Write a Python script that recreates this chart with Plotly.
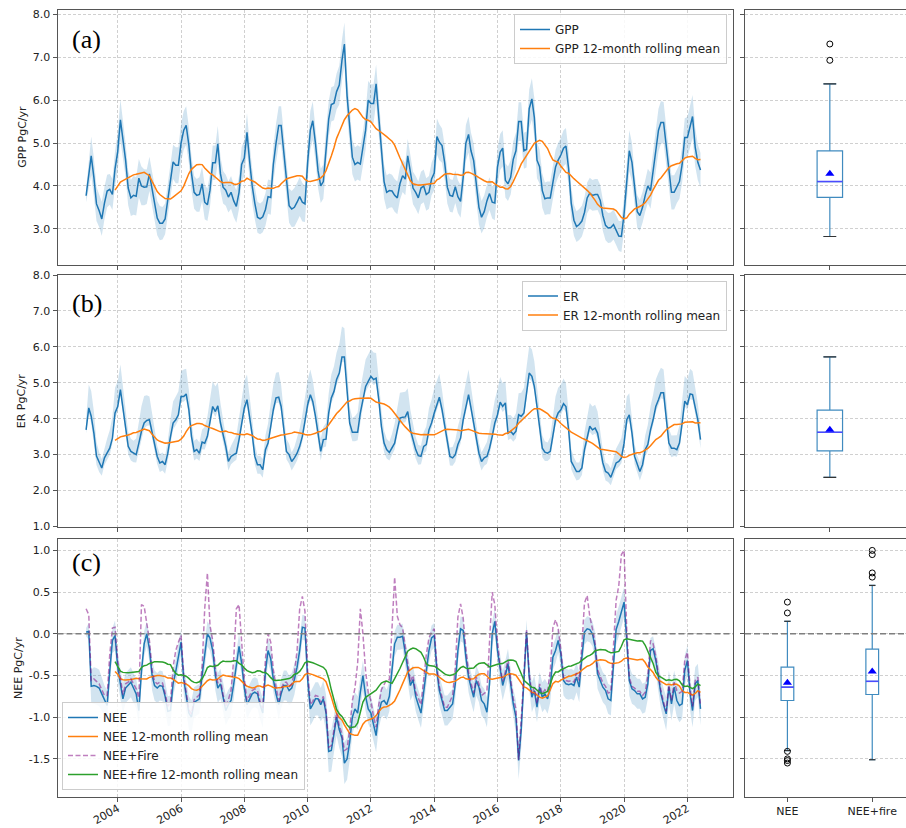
import numpy as np
import pandas as pd
import plotly.graph_objects as go

# ---------------- monthly data, Jan 2003 - Jun 2022 (PgC/yr) ----------------
months = pd.date_range("2003-01-01", periods=234, freq="MS")

gpp = [
    3.77, 4.30, 4.70, 4.20, 3.58, 3.42, 3.23, 3.60, 3.88, 3.92, 3.80, 4.40,
    4.80, 5.54, 5.10, 4.60, 3.95, 3.72, 3.78, 3.76, 4.18, 4.00, 3.97, 3.98,
    4.28, 3.95, 3.60, 3.25, 3.13, 3.13, 3.23, 3.70, 4.10, 4.56, 4.48, 4.48,
    5.00, 5.30, 5.41, 4.95, 4.30, 3.85, 3.78, 3.80, 4.05, 3.62, 3.56, 3.90,
    4.54, 4.54, 4.98, 4.28, 3.97, 3.90, 3.74, 3.85, 3.65, 3.52, 3.85, 4.50,
    4.65, 5.25, 4.60, 4.00, 3.60, 3.27, 3.23, 3.28, 3.45, 3.75, 3.73, 4.50,
    5.00, 5.41, 5.41, 4.80, 4.10, 3.54, 3.46, 3.50, 3.62, 3.75, 3.62, 3.58,
    4.55, 5.30, 5.52, 5.00, 4.35, 4.00, 4.10, 4.90, 5.56, 5.90, 5.93, 6.20,
    6.35, 6.93, 7.31, 6.10, 5.30, 4.67, 4.50, 4.55, 4.51, 4.85, 5.30, 6.00,
    5.92, 5.92, 6.38, 5.60, 4.80, 4.10, 3.85, 3.89, 3.88, 3.78, 3.72, 4.05,
    4.24, 4.16, 4.70, 4.28, 3.95, 3.85, 3.72, 3.95, 4.00, 3.80, 3.85, 4.16,
    4.30, 5.15, 5.02, 4.94, 4.55, 3.97, 3.78, 3.76, 3.98, 3.75, 3.64, 4.20,
    5.00, 5.20, 4.82, 4.59, 4.10, 3.50, 3.27, 3.40, 3.65, 3.82, 3.62, 3.60,
    4.44, 4.79, 4.88, 4.13, 4.05, 4.20, 4.62, 4.82, 5.50, 5.50, 4.82, 4.85,
    5.80, 6.03, 5.60, 4.60, 4.45, 3.89, 3.70, 3.72, 3.72, 4.12, 4.44, 4.60,
    4.72, 4.88, 4.93, 4.40, 3.60, 3.20, 3.05, 3.10, 3.18, 3.38, 3.72, 3.83,
    3.78, 3.80, 3.80, 3.66, 3.31, 3.08, 3.02, 3.03, 3.10, 2.97, 2.83, 2.82,
    3.35, 4.10, 4.82, 4.55, 3.90, 3.40, 3.31, 3.50, 3.78, 4.00, 3.89, 4.30,
    4.82, 5.30, 5.48, 5.48, 4.95, 4.30, 3.85, 3.85, 4.00, 4.10, 4.50, 5.13,
    5.13, 5.40, 5.62, 4.90, 4.55, 4.37,
]

gpp_err = [
    0.15, 0.30, 0.45, 0.45, 0.40, 0.38, 0.40, 0.38, 0.38, 0.36, 0.36, 0.40,
    0.45, 0.48, 0.45, 0.40, 0.40, 0.42, 0.45, 0.45, 0.45, 0.45, 0.42, 0.40,
    0.40, 0.40, 0.40, 0.40, 0.40, 0.38, 0.36, 0.36, 0.38, 0.40, 0.42, 0.42,
    0.45, 0.45, 0.45, 0.42, 0.40, 0.38, 0.38, 0.40, 0.40, 0.40, 0.38, 0.38,
    0.40, 0.40, 0.42, 0.40, 0.38, 0.36, 0.36, 0.38, 0.38, 0.38, 0.38, 0.40,
    0.42, 0.45, 0.42, 0.40, 0.38, 0.36, 0.36, 0.36, 0.38, 0.40, 0.40, 0.42,
    0.45, 0.45, 0.45, 0.42, 0.40, 0.40, 0.42, 0.45, 0.45, 0.45, 0.45, 0.42,
    0.42, 0.45, 0.45, 0.42, 0.40, 0.40, 0.40, 0.42, 0.42, 0.40, 0.40, 0.42,
    0.45, 0.48, 0.50, 0.45, 0.42, 0.40, 0.40, 0.40, 0.40, 0.42, 0.45, 0.45,
    0.45, 0.45, 0.45, 0.42, 0.40, 0.40, 0.40, 0.40, 0.38, 0.38, 0.38, 0.38,
    0.38, 0.38, 0.40, 0.38, 0.38, 0.38, 0.38, 0.38, 0.38, 0.38, 0.38, 0.38,
    0.40, 0.42, 0.42, 0.40, 0.40, 0.38, 0.38, 0.38, 0.38, 0.38, 0.38, 0.40,
    0.42, 0.42, 0.42, 0.40, 0.40, 0.40, 0.38, 0.38, 0.38, 0.38, 0.38, 0.40,
    0.42, 0.42, 0.42, 0.40, 0.40, 0.40, 0.42, 0.42, 0.45, 0.45, 0.42, 0.42,
    0.45, 0.48, 0.45, 0.42, 0.40, 0.40, 0.38, 0.38, 0.38, 0.40, 0.40, 0.40,
    0.40, 0.42, 0.42, 0.40, 0.38, 0.36, 0.36, 0.36, 0.36, 0.36, 0.36, 0.36,
    0.36, 0.36, 0.36, 0.36, 0.36, 0.35, 0.35, 0.35, 0.35, 0.35, 0.35, 0.36,
    0.40, 0.45, 0.48, 0.45, 0.40, 0.38, 0.36, 0.36, 0.38, 0.40, 0.42, 0.45,
    0.48, 0.50, 0.50, 0.48, 0.45, 0.42, 0.40, 0.40, 0.40, 0.40, 0.42, 0.45,
    0.48, 0.50, 0.50, 0.45, 0.42, 0.40,
]

er = [
    3.69, 4.30, 4.07, 3.60, 2.96, 2.77, 2.63, 2.91, 3.05, 3.18, 3.46, 4.16,
    4.34, 4.81, 4.30, 3.74, 3.23, 3.09, 3.04, 3.00, 3.32, 3.65, 3.88, 3.95,
    3.97, 3.60, 3.23, 2.95, 2.77, 2.81, 2.72, 3.04, 3.50, 3.88, 3.97, 4.11,
    4.62, 4.62, 4.69, 4.25, 3.51, 3.09, 3.14, 3.04, 3.35, 3.32, 3.51, 3.88,
    4.34, 4.20, 4.36, 3.88, 3.60, 3.23, 2.81, 2.95, 3.00, 3.04, 3.42, 3.88,
    4.30, 4.53, 4.07, 3.56, 2.95, 2.72, 2.72, 2.58, 3.14, 3.32, 3.79, 4.25,
    4.58, 4.60, 4.34, 3.69, 3.09, 3.00, 2.81, 2.91, 3.04, 3.23, 3.51, 3.93,
    4.39, 4.67, 4.48, 4.07, 3.60, 3.09, 3.42, 3.43, 4.16, 4.58, 4.76, 5.09,
    5.27, 5.72, 5.72, 4.81, 3.88, 3.62, 3.62, 3.62, 4.16, 4.53, 4.90, 5.04,
    5.18, 5.09, 5.13, 4.53, 3.79, 3.32, 3.14, 3.06, 3.18, 3.32, 3.69, 4.02,
    4.04, 4.05, 4.20, 3.69, 3.42, 3.14, 2.97, 2.95, 3.23, 3.28, 3.69, 3.88,
    4.16, 4.39, 4.60, 4.25, 3.79, 3.32, 2.95, 2.91, 3.00, 3.28, 3.46, 3.97,
    4.30, 4.67, 4.30, 3.88, 3.42, 3.04, 2.81, 2.91, 2.95, 3.18, 3.51, 3.88,
    4.11, 4.46, 4.34, 4.44, 3.60, 3.65, 3.56, 3.65, 4.11, 4.07, 4.16, 4.72,
    5.27, 5.18, 4.90, 4.34, 3.69, 3.18, 3.07, 3.04, 3.09, 3.51, 3.97, 4.16,
    4.25, 4.42, 4.34, 3.69, 2.81, 2.67, 2.53, 2.53, 2.63, 3.14, 3.51, 3.79,
    3.69, 3.74, 3.60, 3.14, 2.77, 2.53, 2.49, 2.37, 2.58, 2.77, 2.81, 2.91,
    3.32, 3.97, 4.11, 3.60, 2.95, 2.72, 2.53, 2.72, 3.14, 3.28, 3.69, 3.97,
    4.34, 4.53, 4.72, 4.72, 3.97, 3.32, 3.18, 3.18, 3.14, 3.32, 3.88, 4.49,
    4.39, 4.69, 4.67, 4.34, 3.97, 3.42,
]

er_up = [
    0.30, 0.65, 0.70, 0.60, 0.40, 0.30, 0.25, 0.30, 0.40, 0.50, 0.60, 0.70,
    0.70, 0.70, 0.60, 0.50, 0.40, 0.35, 0.35, 0.45, 0.60, 0.70, 0.75, 0.70,
    0.65, 0.55, 0.40, 0.30, 0.25, 0.25, 0.25, 0.35, 0.50, 0.60, 0.65, 0.65,
    0.70, 0.75, 0.70, 0.55, 0.40, 0.30, 0.30, 0.30, 0.35, 0.45, 0.55, 0.65,
    0.70, 0.70, 0.65, 0.55, 0.40, 0.30, 0.25, 0.30, 0.40, 0.50, 0.60, 0.70,
    0.75, 0.70, 0.60, 0.45, 0.35, 0.25, 0.25, 0.30, 0.40, 0.55, 0.65, 0.70,
    0.70, 0.70, 0.60, 0.45, 0.35, 0.30, 0.25, 0.30, 0.40, 0.50, 0.60, 0.70,
    0.70, 0.70, 0.60, 0.50, 0.40, 0.35, 0.35, 0.45, 0.55, 0.65, 0.70, 0.75,
    0.80, 0.85, 0.80, 0.60, 0.45, 0.40, 0.45, 0.55, 0.65, 0.70, 0.75, 0.75,
    0.75, 0.75, 0.70, 0.55, 0.45, 0.35, 0.30, 0.30, 0.40, 0.55, 0.65, 0.70,
    0.70, 0.70, 0.65, 0.55, 0.45, 0.35, 0.30, 0.30, 0.40, 0.50, 0.60, 0.65,
    0.70, 0.70, 0.65, 0.55, 0.40, 0.30, 0.25, 0.30, 0.40, 0.50, 0.60, 0.65,
    0.70, 0.70, 0.60, 0.50, 0.40, 0.30, 0.25, 0.30, 0.40, 0.50, 0.60, 0.65,
    0.70, 0.70, 0.65, 0.60, 0.50, 0.45, 0.45, 0.50, 0.60, 0.65, 0.70, 0.75,
    0.75, 0.75, 0.70, 0.55, 0.45, 0.35, 0.30, 0.30, 0.40, 0.55, 0.65, 0.70,
    0.70, 0.70, 0.65, 0.50, 0.35, 0.25, 0.25, 0.25, 0.35, 0.50, 0.60, 0.65,
    0.65, 0.65, 0.60, 0.45, 0.35, 0.25, 0.25, 0.25, 0.30, 0.40, 0.50, 0.55,
    0.60, 0.65, 0.60, 0.45, 0.35, 0.25, 0.25, 0.30, 0.40, 0.55, 0.65, 0.70,
    0.75, 0.75, 0.70, 0.65, 0.50, 0.40, 0.35, 0.35, 0.40, 0.50, 0.65, 0.70,
    0.70, 0.70, 0.65, 0.55, 0.45, 0.35,
]

er_dn = [
    0.10, 0.15, 0.20, 0.25, 0.25, 0.25, 0.22, 0.20, 0.18, 0.18, 0.15, 0.15,
    0.15, 0.15, 0.15, 0.18, 0.22, 0.25, 0.25, 0.22, 0.20, 0.18, 0.15, 0.15,
    0.15, 0.15, 0.18, 0.22, 0.25, 0.25, 0.25, 0.22, 0.20, 0.18, 0.15, 0.15,
    0.15, 0.15, 0.15, 0.18, 0.22, 0.25, 0.25, 0.22, 0.20, 0.18, 0.15, 0.15,
    0.15, 0.15, 0.15, 0.18, 0.22, 0.25, 0.25, 0.22, 0.20, 0.18, 0.15, 0.15,
    0.15, 0.15, 0.15, 0.18, 0.22, 0.25, 0.25, 0.22, 0.20, 0.18, 0.15, 0.15,
    0.15, 0.15, 0.15, 0.18, 0.22, 0.25, 0.25, 0.22, 0.20, 0.18, 0.15, 0.15,
    0.15, 0.15, 0.15, 0.18, 0.22, 0.25, 0.22, 0.20, 0.18, 0.15, 0.15, 0.15,
    0.15, 0.15, 0.15, 0.18, 0.22, 0.25, 0.25, 0.22, 0.20, 0.18, 0.15, 0.15,
    0.15, 0.15, 0.15, 0.18, 0.22, 0.25, 0.25, 0.22, 0.20, 0.18, 0.15, 0.15,
    0.15, 0.15, 0.15, 0.18, 0.22, 0.25, 0.25, 0.22, 0.20, 0.18, 0.15, 0.15,
    0.15, 0.15, 0.15, 0.18, 0.22, 0.25, 0.25, 0.22, 0.20, 0.18, 0.15, 0.15,
    0.15, 0.15, 0.15, 0.18, 0.22, 0.25, 0.25, 0.22, 0.20, 0.18, 0.15, 0.15,
    0.15, 0.15, 0.15, 0.18, 0.20, 0.20, 0.20, 0.20, 0.18, 0.18, 0.15, 0.15,
    0.15, 0.15, 0.15, 0.18, 0.22, 0.25, 0.25, 0.22, 0.20, 0.18, 0.15, 0.15,
    0.15, 0.15, 0.15, 0.18, 0.22, 0.25, 0.25, 0.22, 0.20, 0.18, 0.15, 0.15,
    0.15, 0.15, 0.15, 0.18, 0.22, 0.25, 0.25, 0.22, 0.20, 0.18, 0.15, 0.15,
    0.15, 0.15, 0.15, 0.18, 0.22, 0.25, 0.25, 0.22, 0.20, 0.18, 0.15, 0.15,
    0.15, 0.15, 0.15, 0.18, 0.22, 0.25, 0.25, 0.22, 0.20, 0.18, 0.15, 0.15,
    0.15, 0.15, 0.15, 0.18, 0.22, 0.25,
]

nee = [
    0.02, 0.03, -0.63, -0.62, -0.63, -0.65, -0.72, -0.80, -0.86, -0.45, -0.08, -0.02,
    -0.40, -0.60, -0.78, -0.65, -0.62, -0.58, -0.65, -0.72, -0.92, -0.45, -0.12, 0.00,
    -0.18, -0.50, -0.62, -0.65, -0.62, -0.63, -0.75, -0.93, -0.92, -0.60, -0.45, -0.25,
    -0.10, -0.55, -0.75, -0.95, -1.00, -0.82, -0.80, -0.78, -0.50, -0.25, 0.00, -0.05,
    -0.20, -0.50, -0.65, -0.60, -0.78, -0.92, -0.85, -0.80, -0.60, -0.35, -0.15, -0.35,
    -0.65, -0.85, -0.78, -0.72, -0.70, -0.72, -0.85, -0.95, -0.45, -0.20, -0.30, -0.55,
    -0.72, -0.85, -0.72, -0.62, -0.62, -0.68, -0.65, -0.55, -0.40, -0.20, 0.08, 0.07,
    -0.55, -0.90, -0.85, -0.78, -0.78, -0.85, -0.78, -0.95, -1.41, -1.40, -1.20, -1.00,
    -1.15, -1.25, -1.55, -1.50, -1.30, -1.00, -0.90, -0.95, -0.70, -0.50, -0.75, -0.90,
    -0.95, -1.10, -1.22, -0.95, -0.82, -0.80, -0.85, -0.75, -0.45, -0.12, -0.04, -0.04,
    -0.03, -0.24, -0.40, -0.62, -0.55, -0.75, -0.85, -0.95, -0.70, -0.45, -0.20, -0.05,
    -0.02, -0.45, -0.68, -0.80, -0.92, -0.92, -0.88, -0.84, -0.60, -0.20, 0.06, 0.04,
    -0.28, -0.52, -0.64, -0.76, -0.56, -0.64, -0.80, -0.84, -0.94, -0.60, 0.00, 0.15,
    -0.20, -0.45, -0.62, -0.50, -0.36, -0.60, -0.84, -1.00, -1.52, -1.15, -0.55, 0.02,
    -0.52, -0.76, -0.68, -0.88, -0.64, -0.76, -0.72, -0.78, -0.64, -0.28, -0.20, -0.08,
    -0.24, -0.56, -0.60, -0.61, -0.60, -0.62, -0.52, -0.64, -0.28, 0.02, 0.06, 0.05,
    0.00, -0.16, -0.48, -0.56, -0.64, -0.68, -0.78, -0.80, -0.30, 0.05, 0.15, 0.25,
    0.38, -0.08, -0.56, -0.66, -0.68, -0.72, -0.72, -0.78, -0.76, -0.60, -0.20, -0.18,
    -0.32, -0.52, -0.72, -0.85, -0.96, -0.64, -0.84, -0.64, -0.80, -0.86, -0.84, -0.44,
    -0.32, -0.72, -0.92, -0.60, -0.56, -0.90,
]

nee_err = [
    0.05, 0.10, 0.20, 0.22, 0.22, 0.22, 0.20, 0.18, 0.18, 0.15, 0.15, 0.18,
    0.18, 0.18, 0.18, 0.18, 0.18, 0.18, 0.18, 0.18, 0.18, 0.15, 0.15, 0.15,
    0.15, 0.18, 0.18, 0.18, 0.18, 0.18, 0.18, 0.18, 0.18, 0.15, 0.15, 0.15,
    0.15, 0.18, 0.18, 0.20, 0.20, 0.18, 0.18, 0.18, 0.18, 0.15, 0.15, 0.15,
    0.15, 0.18, 0.18, 0.18, 0.18, 0.18, 0.18, 0.18, 0.18, 0.15, 0.15, 0.15,
    0.15, 0.18, 0.18, 0.18, 0.18, 0.18, 0.18, 0.18, 0.18, 0.15, 0.15, 0.15,
    0.15, 0.18, 0.18, 0.18, 0.18, 0.18, 0.18, 0.18, 0.15, 0.15, 0.15, 0.15,
    0.18, 0.20, 0.20, 0.20, 0.20, 0.20, 0.22, 0.22, 0.25, 0.25, 0.22, 0.22,
    0.22, 0.22, 0.25, 0.25, 0.22, 0.20, 0.20, 0.20, 0.18, 0.18, 0.18, 0.18,
    0.20, 0.20, 0.20, 0.18, 0.18, 0.18, 0.18, 0.18, 0.18, 0.15, 0.15, 0.15,
    0.15, 0.15, 0.18, 0.18, 0.18, 0.18, 0.18, 0.18, 0.18, 0.15, 0.15, 0.15,
    0.15, 0.18, 0.18, 0.18, 0.18, 0.18, 0.18, 0.18, 0.18, 0.15, 0.15, 0.15,
    0.15, 0.18, 0.18, 0.18, 0.18, 0.18, 0.18, 0.18, 0.18, 0.15, 0.15, 0.15,
    0.15, 0.18, 0.18, 0.18, 0.18, 0.18, 0.18, 0.20, 0.22, 0.22, 0.18, 0.15,
    0.15, 0.18, 0.18, 0.18, 0.18, 0.18, 0.18, 0.18, 0.18, 0.15, 0.15, 0.15,
    0.15, 0.18, 0.18, 0.18, 0.18, 0.18, 0.18, 0.18, 0.18, 0.15, 0.15, 0.15,
    0.15, 0.18, 0.18, 0.18, 0.18, 0.18, 0.18, 0.18, 0.18, 0.18, 0.18, 0.18,
    0.18, 0.18, 0.18, 0.18, 0.18, 0.18, 0.18, 0.18, 0.18, 0.18, 0.15, 0.15,
    0.15, 0.18, 0.18, 0.18, 0.20, 0.20, 0.20, 0.20, 0.20, 0.20, 0.18, 0.18,
    0.18, 0.20, 0.20, 0.20, 0.20, 0.20,
]

fire = [
    0.28, 0.20, 0.07, 0.08, 0.06, 0.05, 0.05, 0.06, 0.12, 0.20, 0.15, 0.10,
    0.08, 0.06, 0.05, 0.05, 0.04, 0.04, 0.05, 0.06, 0.15, 0.80, 0.45, 0.15,
    0.10, 0.06, 0.05, 0.05, 0.04, 0.04, 0.04, 0.06, 0.10, 0.20, 0.25, 0.15,
    0.08, 0.05, 0.04, 0.04, 0.04, 0.03, 0.04, 0.05, 0.10, 0.55, 0.73, 0.15,
    0.12, 0.07, 0.06, 0.06, 0.05, 0.05, 0.06, 0.12, 0.30, 0.65, 0.50, 0.25,
    0.10, 0.05, 0.04, 0.04, 0.04, 0.04, 0.04, 0.06, 0.15, 0.20, 0.20, 0.12,
    0.08, 0.05, 0.05, 0.04, 0.04, 0.04, 0.05, 0.08, 0.20, 0.50, 0.37, 0.20,
    0.10, 0.05, 0.04, 0.04, 0.03, 0.03, 0.03, 0.04, 0.05, 0.06, 0.05, 0.05,
    0.05, 0.05, 0.15, 0.12, 0.15, 0.20, 0.25, 0.60, 1.00, 0.50, 0.30, 0.20,
    0.15, 0.10, 0.10, 0.10, 0.15, 0.20, 0.30, 0.20, 0.60, 0.80, 0.25, 0.15,
    0.10, 0.08, 0.06, 0.05, 0.05, 0.05, 0.08, 0.10, 0.15, 0.20, 0.15, 0.07,
    0.08, 0.05, 0.05, 0.04, 0.04, 0.04, 0.06, 0.10, 0.20, 0.40, 0.30, 0.15,
    0.10, 0.06, 0.05, 0.05, 0.04, 0.04, 0.06, 0.12, 0.25, 0.50, 0.50, 0.20,
    0.10, 0.06, 0.05, 0.05, 0.05, 0.05, 0.06, 0.10, 0.01, 0.12, 0.10, 0.03,
    0.05, 0.04, 0.04, 0.04, 0.04, 0.04, 0.05, 0.08, 0.20, 0.35, 0.37, 0.15,
    0.05, 0.04, 0.04, 0.04, 0.04, 0.04, 0.05, 0.08, 0.15, 0.35, 0.40, 0.16,
    0.06, 0.05, 0.05, 0.05, 0.05, 0.05, 0.07, 0.10, 0.20, 0.35, 0.43, 0.70,
    0.62, 0.12, 0.04, 0.03, 0.03, 0.03, 0.03, 0.04, 0.06, 0.10, 0.12, 0.06,
    0.05, 0.04, 0.04, 0.03, 0.03, 0.03, 0.04, 0.06, 0.12, 0.15, 0.15, 0.12,
    0.10, 0.06, 0.05, 0.04, 0.04, 0.04,
]

year_ticks = ["2004", "2006", "2008", "2010", "2012", "2014", "2016", "2018", "2020", "2022"]
gpp_ticks = [3.0, 4.0, 5.0, 6.0, 7.0, 8.0]
er_ticks = [1.0, 2.0, 3.0, 4.0, 5.0, 6.0, 7.0, 8.0]
nee_ticks = [-1.5, -1.0, -0.5, 0.0, 0.5, 1.0]
box_names = ["NEE", "NEE+fire"]

# ---------------- derived series ----------------
gpp_s = pd.Series(gpp, index=months)
er_s = pd.Series(er, index=months)
nee_s = pd.Series(nee, index=months)
neef_s = nee_s + pd.Series(fire, index=months)


def roll(s):
    return s.rolling(12).mean()


BLUE = "#1f77b4"
ORANGE = "#ff7f0e"
GREEN = "#2ca02c"
PURPLE = "rgba(128,0,128,0.5)"
BAND = "rgba(31,119,180,0.2)"
AX = "#555555"
GRID = "#d0d0d0"

fig = go.Figure()


def add_band(lo, hi, xa, ya):
    fig.add_trace(go.Scatter(x=months, y=lo, mode="lines", line=dict(width=0),
                             hoverinfo="skip", showlegend=False, xaxis=xa, yaxis=ya))
    fig.add_trace(go.Scatter(x=months, y=hi, mode="lines", line=dict(width=0),
                             fill="tonexty", fillcolor=BAND, hoverinfo="skip",
                             showlegend=False, xaxis=xa, yaxis=ya))


def add_line(s, name, color, xa, ya, legend, dash=None):
    s = s.dropna()
    fig.add_trace(go.Scatter(x=s.index, y=s.values, mode="lines", name=name,
                             line=dict(color=color, width=1.5, dash=dash),
                             xaxis=xa, yaxis=ya, legend=legend))


def add_box(values, pos, xa, ya):
    v = np.asarray(values)
    q1, med, q3 = np.percentile(v, [25, 50, 75])
    iqr = q3 - q1
    lo = v[v >= q1 - 1.5 * iqr].min()
    hi = v[v <= q3 + 1.5 * iqr].max()
    out = v[(v < lo) | (v > hi)]
    w = 0.15
    fig.add_trace(go.Box(x=[pos], q1=[q1], median=[med], q3=[q3], lowerfence=[lo],
                         upperfence=[hi], width=w, whiskerwidth=0.5, boxpoints=False,
                         line=dict(color="rgba(31,119,180,0.85)", width=1.2),
                         fillcolor="rgba(255,255,255,0)", hoverinfo="skip",
                         showlegend=False, xaxis=xa, yaxis=ya))
    for f in (lo, hi):
        fig.add_trace(go.Scatter(x=[pos - w / 4, pos + w / 4], y=[f, f], mode="lines",
                                 line=dict(color="#333333", width=1.2), showlegend=False,
                                 hoverinfo="skip", xaxis=xa, yaxis=ya))
    fig.add_trace(go.Scatter(x=[pos - w / 2, pos + w / 2], y=[med, med], mode="lines",
                             line=dict(color="#4b4bff", width=1.5), showlegend=False,
                             hoverinfo="skip", xaxis=xa, yaxis=ya))
    fig.add_trace(go.Scatter(x=[pos], y=[v.mean()], mode="markers",
                             marker=dict(symbol="triangle-up", size=8, color="#0000ff"),
                             showlegend=False, hoverinfo="skip", xaxis=xa, yaxis=ya))
    if len(out):
        fig.add_trace(go.Scatter(x=[pos] * len(out), y=out, mode="markers",
                                 marker=dict(symbol="circle-open", size=6, color="black",
                                             line=dict(width=1)),
                                 showlegend=False, hoverinfo="skip", xaxis=xa, yaxis=ya))


# (a) GPP
gpp_e = pd.Series(gpp_err, index=months)
add_band(gpp_s - gpp_e, gpp_s + gpp_e, "x", "y")
add_line(gpp_s, "GPP", BLUE, "x", "y", "legend")
add_line(roll(gpp_s), "GPP 12-month rolling mean", ORANGE, "x", "y", "legend")
add_box(gpp, 1, "x2", "y2")

# (b) ER
add_band(er_s - pd.Series(er_dn, index=months), er_s + pd.Series(er_up, index=months), "x3", "y3")
add_line(er_s, "ER", BLUE, "x3", "y3", "legend2")
add_line(roll(er_s), "ER 12-month rolling mean", ORANGE, "x3", "y3", "legend2")
add_box(er, 1, "x4", "y4")

# (c) NEE
nee_e = pd.Series(nee_err, index=months)
add_band(nee_s - nee_e, nee_s + nee_e, "x5", "y5")
add_line(nee_s, "NEE", BLUE, "x5", "y5", "legend3")
add_line(roll(nee_s), "NEE 12-month rolling mean", ORANGE, "x5", "y5", "legend3")
add_line(neef_s, "NEE+Fire", PURPLE, "x5", "y5", "legend3", dash="5px,2.5px")
add_line(roll(neef_s), "NEE+fire 12-month rolling mean", GREEN, "x5", "y5", "legend3")
add_box(nee, 1, "x6", "y6")
add_box(neef_s.values, 2, "x6", "y6")

# ---------------- layout ----------------
W, H = 906, 828
LEFT = [57.5 / W, 733 / W]
RIGHT = [745 / W, 1.0]
ROWS = {"a": [1 - 265 / H, 1 - 9.5 / H], "b": [1 - 526.5 / H, 1 - 275 / H],
        "c": [1 - 797 / H, 1 - 539 / H]}
tick_dates = [f"{y}-01-01" for y in year_ticks]

common = dict(showline=True, linecolor=AX, linewidth=1, ticks="outside", ticklen=4,
              tickcolor=AX, zeroline=False, automargin=False)
grid = dict(showgrid=True, gridcolor=GRID, griddash="3px,2px", gridwidth=0.8)


def xdate(domain, anchor, labels):
    return dict(domain=domain, anchor=anchor, type="date",
                range=["2002-02-05", "2023-06-11"], tickmode="array", tickvals=tick_dates,
                ticktext=year_ticks, showticklabels=labels, tickangle=-30, mirror=True,
                ticklabelstandoff=-4, **grid, **common)


def yleft(domain, anchor, rng, ticks):
    return dict(domain=domain, anchor=anchor, range=rng, tickmode="array", tickvals=ticks,
                ticktext=[f"{t:.1f}" for t in ticks], mirror=True, **grid, **common)


def yright(domain, anchor, rng, ticks):
    return dict(domain=domain, anchor=anchor, range=rng, tickmode="array", tickvals=ticks,
                showticklabels=False, mirror=False, **grid, **common)


def xbox(domain, anchor, rng, vals, text):
    return dict(domain=domain, anchor=anchor, range=rng, tickmode="array", tickvals=vals,
                ticktext=text, showgrid=False, mirror=True, **common)


yr_a, yr_b, yr_c = [2.155, 8.115], [1.0, 8.0], [-1.957, 1.137]

legend_style = dict(bgcolor="rgba(255,255,255,0.85)", bordercolor="#cccccc", borderwidth=1,
                    font=dict(size=12), itemwidth=30, traceorder="normal")

fig.update_layout(
    width=W, height=H, margin=dict(l=0, r=0, t=0, b=0),
    paper_bgcolor="white", plot_bgcolor="white",
    font=dict(family="DejaVu Sans", size=11, color="#222222"),
    xaxis=xdate(LEFT, "y", False),
    yaxis=yleft(ROWS["a"], "x", yr_a, gpp_ticks),
    xaxis2=xbox(RIGHT, "y2", [0.5, 1.449], [1], [""]),
    yaxis2=yright(ROWS["a"], "x2", yr_a, gpp_ticks),
    xaxis3=xdate(LEFT, "y3", False),
    yaxis3=yleft(ROWS["b"], "x3", yr_b, er_ticks),
    xaxis4=xbox(RIGHT, "y4", [0.5, 1.449], [1], [""]),
    yaxis4=yright(ROWS["b"], "x4", yr_b, er_ticks),
    xaxis5=xdate(LEFT, "y5", True),
    yaxis5=yleft(ROWS["c"], "x5", yr_c, nee_ticks),
    xaxis6=xbox(RIGHT, "y6", [0.5, 2.398], [1, 2], box_names),
    yaxis6=yright(ROWS["c"], "x6", yr_c, nee_ticks),
    legend=dict(x=727 / W, y=1 - 14 / H, xanchor="right", yanchor="top", **legend_style),
    legend2=dict(x=727 / W, y=1 - 280.5 / H, xanchor="right", yanchor="top", **legend_style),
    legend3=dict(x=62 / W, y=1 - 790 / H, xanchor="left", yanchor="bottom", **legend_style),
    showlegend=True,
)

# dashed zero reference line in the NEE row
for xa, ya in (("x5", "y5"), ("x6", "y6")):
    fig.add_shape(type="line", xref=f"{xa} domain", x0=0, x1=1, yref=ya, y0=0, y1=0,
                  line=dict(color="#7f7f7f", width=1.5, dash="6px,3px"), layer="above")

# y-axis titles, centred on each row
for title, xpix, row in (("GPP PgC/yr", 22.5, "a"), ("ER PgC/yr", 21.5, "b"),
                         ("NEE PgC/yr", 18, "c")):
    fig.add_annotation(text=title, textangle=-90, xref="paper", yref="paper",
                       x=xpix / W, y=sum(ROWS[row]) / 2, xanchor="center", yanchor="middle",
                       showarrow=False, font=dict(size=11, color="#222222"))

# panel letters
for label, ytop in (("(a)", 40), ("(b)", 303), ("(c)", 562)):
    fig.add_annotation(text=label, xref="paper", yref="paper", x=70 / W, y=1 - ytop / H,
                       xanchor="left", yanchor="middle", showarrow=False,
                       font=dict(family="Liberation Serif", size=26, color="black"))

fig.write_html("out.html")
